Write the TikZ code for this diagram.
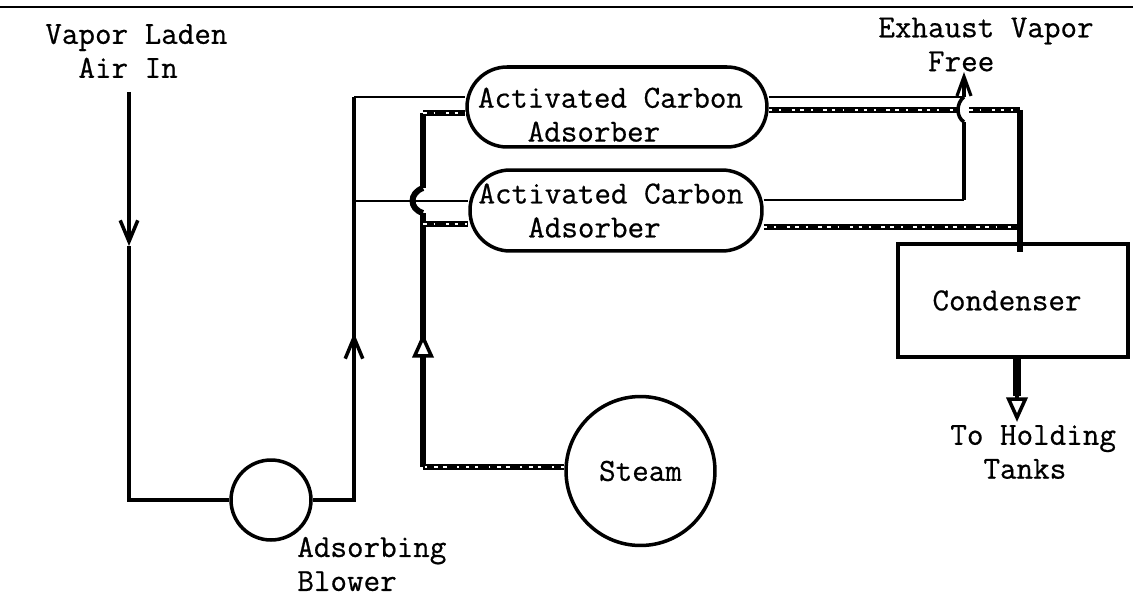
\documentclass[tikz,border=0pt]{standalone}
\usepackage{fontspec}
\newfontfamily\typedfont{Latin Modern Mono}[FakeBold=0.6]
\usetikzlibrary{arrows.meta,positioning,calc}
\tikzset{
  typed/.style={font=\typedfont\fontsize{18.3}{19.3}\selectfont,inner sep=0pt},
  unit/.style={draw,line width=2pt,inner sep=0pt,typed},
  caption/.style={typed,align=left,anchor=west},
  airline/.style={draw,line width=2pt},
  branchline/.style={draw,line width=1.4pt},
  steamline/.style={draw,line width=3.4pt,line join=round},
  steamrough/.style={steamline,postaction={draw=white,line width=0.7pt,dash pattern=on 2pt off 4pt on 1pt off 6pt on 2pt off 3pt}},
  airtip/.style={-{Straight Barb[length=12pt,width=10pt,line width=2pt]}},
  smalltip/.style={-{Straight Barb[length=11pt,width=8pt,line width=1.8pt]}},
  steamtip/.style={-{Triangle[open,fill=white,length=14pt,width=12pt,line width=2pt]}}
}
\begin{document}
\begin{tikzpicture}[x=0.02cm,y=-0.02cm]
  \useasboundingbox (0,0) rectangle (1133,598);

  % Regle du haut
  \draw[line width=1.7pt] (0,7) -- (1133,7);

  % Appareils
  \node[unit,circle,minimum size=1.6cm] (blower) at (271,500) {};
  \node[unit,circle,minimum size=2.98cm] (steam) at (640.5,471) {Steam};
  \node[unit,rounded corners=0.8cm,minimum width=6cm,minimum height=1.6cm,align=left]
       (adsa) at (617,107) {\rule{0pt}{0.71cm}Activated Carbon\hspace*{0.26cm}\\~~~Adsorber};
  \node[unit,rounded corners=0.8cm,minimum width=5.84cm,minimum height=1.62cm,align=left]
       (adsb) at (616,210.5) {Activated Carbon\hspace*{0.2cm}\\~~~Adsorber};
  \node[unit,minimum width=4.6cm,minimum height=2.26cm]
       (cond) at (1013,300.5) {\raisebox{-0.14cm}{Condenser}\hspace*{0.24cm}};

  % Textes
  \node[caption] (airin) at (45,51) {Vapor Laden\\~~Air In};
  \node[caption] (vaporfree) at (878,44.5) {Exhaust Vapor\\~~~Free};
  \node[caption] (tanks) at (950,452) {To Holding\\~~Tanks};
  \node[caption] (blowerlab) at (297,564) {Adsorbing\\Blower};

  % Jonctions
  \coordinate (airtop) at (129,92);
  \coordinate (airmid) at (129,246);
  \coordinate (aircorner) at (129,500);
  \coordinate (riserfoot) at (354,500);
  \coordinate (risermid) at (354,333);
  \coordinate (riserjoin) at (354,201);
  \coordinate (risertop) at (354,97);
  \coordinate (steamcorner) at (423,467);
  \coordinate (steambase) at (423,357);
  \coordinate (steammid) at (423,333);
  \coordinate (steamjoin) at (423,224);
  \coordinate (hopa) at (423,213);
  \coordinate (hopb) at (423,188);
  \coordinate (steamtop) at (423,113);
  \coordinate (exhupper) at (964,97);
  \coordinate (exhlower) at (964,200);
  \coordinate (exhhopa) at (964,122);
  \coordinate (exhtip) at (964,72);
  \coordinate (outleft) at (958,110);
  \coordinate (outright) at (969,110);
  \coordinate (outcorner) at (1020,110);
  \coordinate (outjoin) at (1020,227);
  \coordinate (condin) at (1020,252);
  \coordinate (condout) at (1017,357);
  \coordinate (condbase) at (1017,396);
  \coordinate (condtip) at (1017,422);

  % Air
  \draw[airline,airtip] (airtop) -- (airmid);
  \draw[airline] (airmid) -- (aircorner) -- (blower.west);
  \draw[airline] (blower.east) -- (riserfoot) -- (risertop);
  \draw[airline,airtip] (riserfoot) -- (risermid);
  \draw[branchline] (risertop) -- (adsa.west |- risertop);
  \draw[branchline] (riserjoin) -- (adsb.west |- riserjoin);
  \draw[branchline] (adsa.east |- exhupper) -- (exhupper);
  \draw[branchline] (adsb.east |- exhlower) -- (exhlower);
  \draw[airline] (exhlower) -- (exhhopa);
  \draw[airline] (exhhopa) .. controls (956,117) and (956,103) .. (exhupper);
  \draw[airline,smalltip] (exhupper) -- (exhtip);

  % Vapeur
  \draw[steamline] (steamcorner) -- (hopa);
  \draw[steamline] (hopa) .. controls (409,209) and (409,193) .. (hopb);
  \draw[steamline] (hopb) -- (steamtop);
  \draw[steamrough] (steam.west |- steamcorner) -- (steamcorner);
  \draw[steamrough] (steamtop) -- (adsa.west |- steamtop);
  \draw[steamrough] (steamjoin) -- (adsb.west |- steamjoin);
  \draw[steamrough] (adsa.east |- outleft) -- (outleft);
  \draw[steamrough] (outright) -- (outcorner);
  \draw[steamrough] (adsb.east |- outjoin) -- (outjoin);
  \draw[steamline] (outcorner) -- (condin);
  \draw[line width=2pt,steamtip] (steambase) -- (steammid);
  \draw[line width=4.2pt] (condout) -- (condbase);
  \draw[line width=2pt,steamtip] (condbase) -- (condtip);

\end{tikzpicture}
\end{document}
